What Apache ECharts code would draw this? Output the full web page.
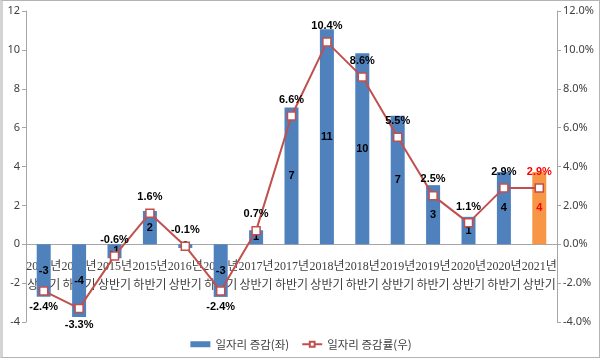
<!DOCTYPE html>
<html><head><meta charset="utf-8">
<script src="https://cdn.jsdelivr.net/npm/echarts@6/dist/echarts.min.js"></script>
<style>
html,body{margin:0;padding:0;background:#fff;}
#c{width:600px;height:358px;box-sizing:border-box;border:1px solid #b4b4b4;border-left:3px solid #d4d4d4;}
</style></head>
<body><div id="c"></div>
<script>
const categories = ['2014년\n상반기','2014년\n하반기','2015년\n상반기','2015년\n하반기','2016년\n상반기','2016년\n하반기','2017년\n상반기','2017년\n하반기','2018년\n상반기','2018년\n하반기','2019년\n상반기','2019년\n하반기','2020년\n상반기','2020년\n하반기','2021년\n상반기'];
const jobChange = [-2.7,-3.74,-0.72,1.71,-0.19,-2.71,0.72,7.04,11.06,9.82,6.61,3.04,1.41,3.72,3.72];
const jobRate = [-2.4,-3.3,-0.6,1.6,-0.1,-2.4,0.7,6.6,10.4,8.6,5.5,2.5,1.1,2.9,2.9];
const leftTicks = {min:-4,max:12,interval:2};
const rightTicks = {min:-4,max:12,interval:2};

const last = categories.length - 1;
const el = document.getElementById('c');
const chart = echarts.init(el);
const axisCol = '#a6a6a6';
const txtCol = '#404040';
const gTop = 10, gBottom = 35;
const gridH = chart.getHeight() - gTop - gBottom;
const zeroOffset = -gridH * (0 - leftTicks.min) / (leftTicks.max - leftTicks.min);
chart.setOption({
  animation:false,
  grid:{left:23,right:42,top:gTop,bottom:gBottom,containLabel:false,outerBoundsMode:'none'},
  legend:{
    bottom:2,left:'center',itemGap:12,
    textStyle:{fontFamily:'Noto Sans CJK KR',fontSize:11.5,color:txtCol},
    data:[{name:'일자리 증감(좌)',icon:'rect',itemStyle:{color:'#4F81BD'}},{name:'일자리 증감률(우)'}],
    itemWidth:20,itemHeight:6
  },
  xAxis:{
    type:'category',data:categories,position:'bottom',offset:zeroOffset,
    axisLine:{onZero:false,lineStyle:{color:axisCol}},
    axisTick:{length:4,lineStyle:{color:axisCol}},
    axisLabel:{interval:0,margin:13,fontSize:12,lineHeight:19,color:txtCol,fontFamily:'Liberation Serif, Noto Sans CJK KR'}
  },
  yAxis:[
    {type:'value',min:leftTicks.min,max:leftTicks.max,interval:leftTicks.interval,
     splitLine:{show:false},axisLine:{show:true,lineStyle:{color:axisCol}},
     axisTick:{show:true,length:4,lineStyle:{color:axisCol}},
     axisLabel:{fontSize:11,color:txtCol,margin:6,fontFamily:'Noto Sans'}},
    {type:'value',min:rightTicks.min,max:rightTicks.max,interval:rightTicks.interval,position:'right',
     splitLine:{show:false},axisLine:{show:true,lineStyle:{color:axisCol}},
     axisTick:{show:true,length:4,lineStyle:{color:axisCol}},
     axisLabel:{fontSize:11,color:txtCol,margin:6,fontFamily:'Noto Sans',formatter:v=>v.toFixed(1)+'%'}}
  ],
  series:[
    {name:'일자리 증감(좌)',type:'bar',yAxisIndex:0,barWidth:14,
     itemStyle:{color:'#4F81BD'},
     data:jobChange.map((v,i)=>i===last?{value:v,itemStyle:{color:'#F79646'},label:{color:'#ff0000'}}:v),
     label:{show:true,position:'inside',fontSize:11,fontWeight:'bold',color:'#000',fontFamily:'Liberation Sans',
       formatter:p=>String(Math.round(p.value)===0?0:Math.round(p.value))}},
    {name:'일자리 증감률(우)',type:'line',yAxisIndex:1,z:5,
     symbol:'rect',symbolSize:8,
     lineStyle:{color:'#C0504D',width:2},
     itemStyle:{color:'#fff',borderColor:'#C0504D',borderWidth:1.5},
     data:jobRate.map((v,i)=>{
       const o={value:v};
       if(v<-1) o.label={position:'bottom'};
       if(i===last) o.label={color:'#ff0000'};
       return o;}),
     label:{show:true,position:'top',distance:6,fontSize:11,fontWeight:'bold',color:'#000',fontFamily:'Liberation Sans',
       formatter:p=>p.value.toFixed(1)+'%'}}
  ]
});
</script></body></html>
